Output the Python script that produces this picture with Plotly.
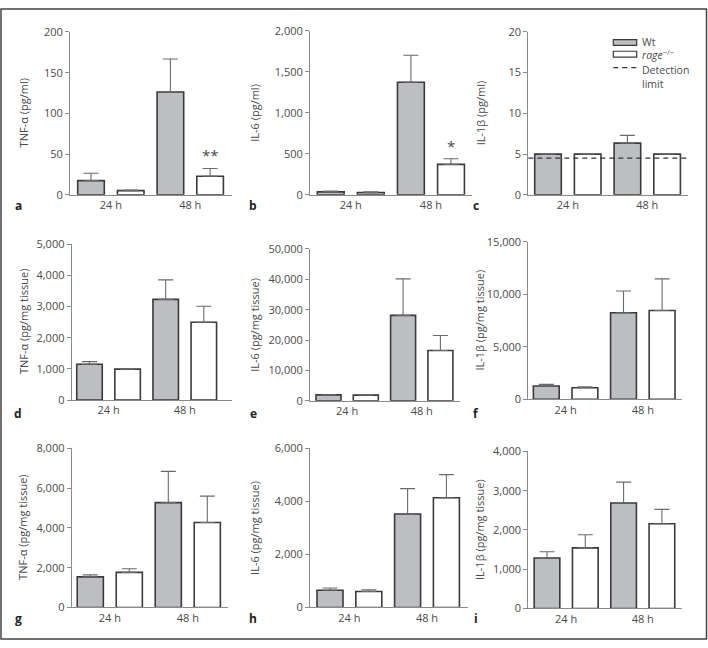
import plotly.graph_objects as go

W, H = 708, 648

# ---------------- data ----------------
CATEGORIES = ["24 h", "48 h"]

# panel a: TNF-α (pg/ml)
a_wt = [17.5, 126.3]
a_wt_err = [9.0, 40.4]
a_ko = [5.2, 22.8]
a_ko_err = [0.8, 9.6]
# panel b: IL-6 (pg/ml)
b_wt = [36, 1372]
b_wt_err = [12, 330]
b_ko = [27, 372]
b_ko_err = [9, 68]
# panel c: IL-1β (pg/ml)
c_wt = [5.0, 6.35]
c_wt_err = [0.0, 0.95]
c_ko = [5.0, 5.0]
c_ko_err = [0.0, 0.0]
DETECTION_LIMIT = 4.5
# panel d: TNF-α (pg/mg tissue)
d_wt = [1147, 3227]
d_wt_err = [84, 626]
d_ko = [990, 2494]
d_ko_err = [0, 514]
# panel e: IL-6 (pg/mg tissue)
e_wt = [1932, 28110]
e_wt_err = [0, 12040]
e_ko = [1835, 16520]
e_ko_err = [0, 4950]
# panel f: IL-1β (pg/mg tissue)
f_wt = [1273, 8243]
f_wt_err = [157, 2073]
f_ko = [1115, 8457]
f_ko_err = [93, 3011]
# panel g: TNF-α (pg/mg tissue)
g_wt = [1541, 5271]
g_wt_err = [98, 1570]
g_ko = [1767, 4270]
g_ko_err = [181, 1325]
# panel h: IL-6 (pg/mg tissue)
h_wt = [652, 3523]
h_wt_err = [84, 956]
h_ko = [604, 4137]
h_ko_err = [59, 869]
# panel i: IL-1β (pg/mg tissue)
i_wt = [1287, 2688]
i_wt_err = [157, 532]
i_ko = [1543, 2158]
i_ko_err = [334, 366]

Y_TITLES = ["TNF-α (pg/ml)", "IL-6 (pg/ml)", "IL-1β (pg/ml)",
            "TNF-α (pg/mg tissue)", "IL-6 (pg/mg tissue)", "IL-1β (pg/mg tissue)",
            "TNF-α (pg/mg tissue)", "IL-6 (pg/mg tissue)", "IL-1β (pg/mg tissue)"]
Y_MAX = [200, 2000, 20, 5000, 50000, 15000, 8000, 6000, 4000]
Y_DTICK = [50, 500, 5, 1000, 10000, 5000, 2000, 2000, 1000]
PANEL_LETTERS = ["a", "b", "c", "d", "e", "f", "g", "h", "i"]
# significance marks: (panel index, category, series, text)
SIGNIF = [(0, "48 h", "ko", "**"), (1, "48 h", "ko", "*")]

WT_NAME = "Wt"
KO_NAME = "rage<sup>−/−</sup>"
LEGEND_TEXTS = ["Wt", "<i>rage</i><sup>−/−</sup>", "Detection<br>limit"]

panels = [
    (a_wt, a_wt_err, a_ko, a_ko_err),
    (b_wt, b_wt_err, b_ko, b_ko_err),
    (c_wt, c_wt_err, c_ko, c_ko_err),
    (d_wt, d_wt_err, d_ko, d_ko_err),
    (e_wt, e_wt_err, e_ko, e_ko_err),
    (f_wt, f_wt_err, f_ko, f_ko_err),
    (g_wt, g_wt_err, g_ko, g_ko_err),
    (h_wt, h_wt_err, h_ko, h_ko_err),
    (i_wt, i_wt_err, i_ko, i_ko_err),
]

# ---------------- geometry (pixels) ----------------
# axL, axR, first bar centre, bar pitch, y of zero, y of top tick
GEOM = [
    (70.0, 232.0, 91.0, 39.7, 191.3, 24.5),
    (310.0, 471.5, 330.7, 40.1, 191.3, 23.3),
    (528.3, 688.0, 548.0, 39.7, 191.3, 24.3),
    (71.7, 232.3, 89.5, 38.1, 401.3, 241.7),
    (310.0, 460.0, 328.5, 37.3, 402.0, 246.7),
    (528.3, 681.7, 546.3, 38.6, 400.7, 239.3),
    (71.7, 228.3, 90.3, 39.0, 613.7, 450.7),
    (310.0, 468.0, 330.0, 38.8, 613.7, 450.7),
    (528.3, 681.7, 547.0, 38.3, 614.7, 454.0),
]
TITLE_X = [23, 255, 480]
LETTER_X = [18, 253, 476]
ROW_LABEL_Y = [202, 415, 625]

FONT = "Open Sans, Noto Sans, sans-serif"
GRAY_FILL = "#bdbec1"
OUTLINE = "#3a3a3a"
AXIS_COL = "#8a8a8a"
TEXT_COL = "#4a4a4a"
ERR_COL = "#6a6a6a"


def px_x(p):
    return p / W


def px_y(p):
    return 1 - p / H


fig = go.Figure()
layout = {}
annotations = []
shapes = []

for k, (wt, wt_e, ko, ko_e) in enumerate(panels):
    n = k + 1
    xa = "x" if n == 1 else f"x{n}"
    ya = "y" if n == 1 else f"y{n}"
    axL, axR, c0, p, y0, ytop = GEOM[k]
    upp = 0.5 / p
    r0 = -0.25 - (c0 - axL) * upp
    r1 = r0 + (axR - axL) * upp

    for vals, errs, name, fill in [(wt, wt_e, WT_NAME, GRAY_FILL), (ko, ko_e, KO_NAME, "white")]:
        fig.add_trace(go.Bar(
            x=CATEGORIES, y=vals, name=name, showlegend=False,
            xaxis=xa, yaxis=ya,
            marker=dict(color=fill, line=dict(color=OUTLINE, width=1.6)),
            error_y=dict(type="data", array=errs, arrayminus=[0] * len(errs),
                         symmetric=False, color=ERR_COL, thickness=1.1, width=7.5),
        ))

    layout["xaxis" if n == 1 else f"xaxis{n}"] = dict(
        domain=[px_x(axL), px_x(axR)], anchor=ya, type="category",
        range=[r0, r1], showline=True, linecolor=AXIS_COL, linewidth=1,
        ticks="", showgrid=False, zeroline=False,
        tickfont=dict(family=FONT, size=11, color=TEXT_COL),
        fixedrange=True,
    )
    layout["yaxis" if n == 1 else f"yaxis{n}"] = dict(
        domain=[px_y(y0), px_y(ytop)], anchor=xa,
        range=[0, Y_MAX[k]], dtick=Y_DTICK[k], tick0=0, tickformat=",d",
        showline=True, linecolor=AXIS_COL, linewidth=1,
        ticks="outside", ticklen=4, tickcolor=AXIS_COL, tickwidth=1,
        showgrid=False, zeroline=False,
        tickfont=dict(family=FONT, size=11, color=TEXT_COL),
        fixedrange=True,
    )

    col, row = k % 3, k // 3
    annotations.append(dict(
        text=Y_TITLES[k], textangle=-90, xref="paper", yref="paper",
        x=px_x(TITLE_X[col]), y=px_y((y0 + ytop) / 2),
        showarrow=False, xanchor="center", yanchor="middle",
        font=dict(family=FONT, size=11, color=TEXT_COL),
    ))
    annotations.append(dict(
        text=f"<b>{PANEL_LETTERS[k]}</b>", xref="paper", yref="paper",
        x=px_x(LETTER_X[col]), y=px_y(ROW_LABEL_Y[row]),
        showarrow=False, xanchor="center", yanchor="middle",
        font=dict(family=FONT, size=12, color="#222"),
    ))

# significance marks
for k, cat, series, txt in SIGNIF:
    n = k + 1
    wt, wt_e, ko, ko_e = panels[k]
    idx = CATEGORIES.index(cat)
    top = (ko[idx] + ko_e[idx]) if series == "ko" else (wt[idx] + wt_e[idx])
    p = GEOM[k][3]
    annotations.append(dict(
        text=txt, xref="x" if n == 1 else f"x{n}", yref="y" if n == 1 else f"y{n}",
        x=cat, y=top, xshift=(p / 2 if series == "ko" else -p / 2), yshift=1,
        showarrow=False, xanchor="center", yanchor="bottom",
        font=dict(family=FONT, size=15, color=TEXT_COL),
    ))

# detection limit line in panel c
shapes.append(dict(type="line", xref="x3 domain", yref="y3", x0=0, x1=1,
                   y0=DETECTION_LIMIT, y1=DETECTION_LIMIT,
                   line=dict(color="#333", width=1.4, dash="5px,4px")))

# legend (panel c)
LX0, LX1 = 613.3, 636.7
shapes.append(dict(type="rect", xref="paper", yref="paper",
                   x0=px_x(LX0), x1=px_x(LX1), y0=px_y(38.3), y1=px_y(32.3),
                   fillcolor=GRAY_FILL, line=dict(color=OUTLINE, width=1.2)))
shapes.append(dict(type="rect", xref="paper", yref="paper",
                   x0=px_x(LX0), x1=px_x(LX1), y0=px_y(50.3), y1=px_y(44.3),
                   fillcolor="white", line=dict(color=OUTLINE, width=1.2)))
shapes.append(dict(type="line", xref="paper", yref="paper",
                   x0=px_x(LX0), x1=px_x(LX1), y0=px_y(61), y1=px_y(61),
                   line=dict(color="#333", width=1.4, dash="5px,4px")))
for txt, yy, anch in zip(LEGEND_TEXTS, [35, 47.5, 54.5], ["middle", "middle", "top"]):
    annotations.append(dict(
        text=txt, xref="paper", yref="paper", x=px_x(640), y=px_y(yy),
        showarrow=False, xanchor="left", yanchor=anch, align="left",
        font=dict(family=FONT, size=10.5, color=TEXT_COL),
    ))

# outer frame
shapes.append(dict(type="rect", xref="paper", yref="paper",
                   x0=px_x(1), x1=px_x(706.5), y0=px_y(646), y1=px_y(1),
                   line=dict(color="#444", width=1.5), fillcolor="rgba(0,0,0,0)"))

fig.update_layout(
    width=W, height=H, margin=dict(l=0, r=0, t=0, b=0),
    paper_bgcolor="white", plot_bgcolor="white",
    barmode="group", bargap=0, bargroupgap=0.33,
    showlegend=False,
    annotations=annotations, shapes=shapes,
    font=dict(family=FONT, color=TEXT_COL),
    **layout,
)

fig.write_html(
    "out.html",
    config={"displayModeBar": False, "staticPlot": False},
    post_script=("document.documentElement.style.margin='0';"
                 "document.documentElement.style.overflow='hidden';"
                 "document.body.style.margin='0';"
                 "document.body.style.padding='0';"
                 "document.body.style.overflow='hidden';"),
)
